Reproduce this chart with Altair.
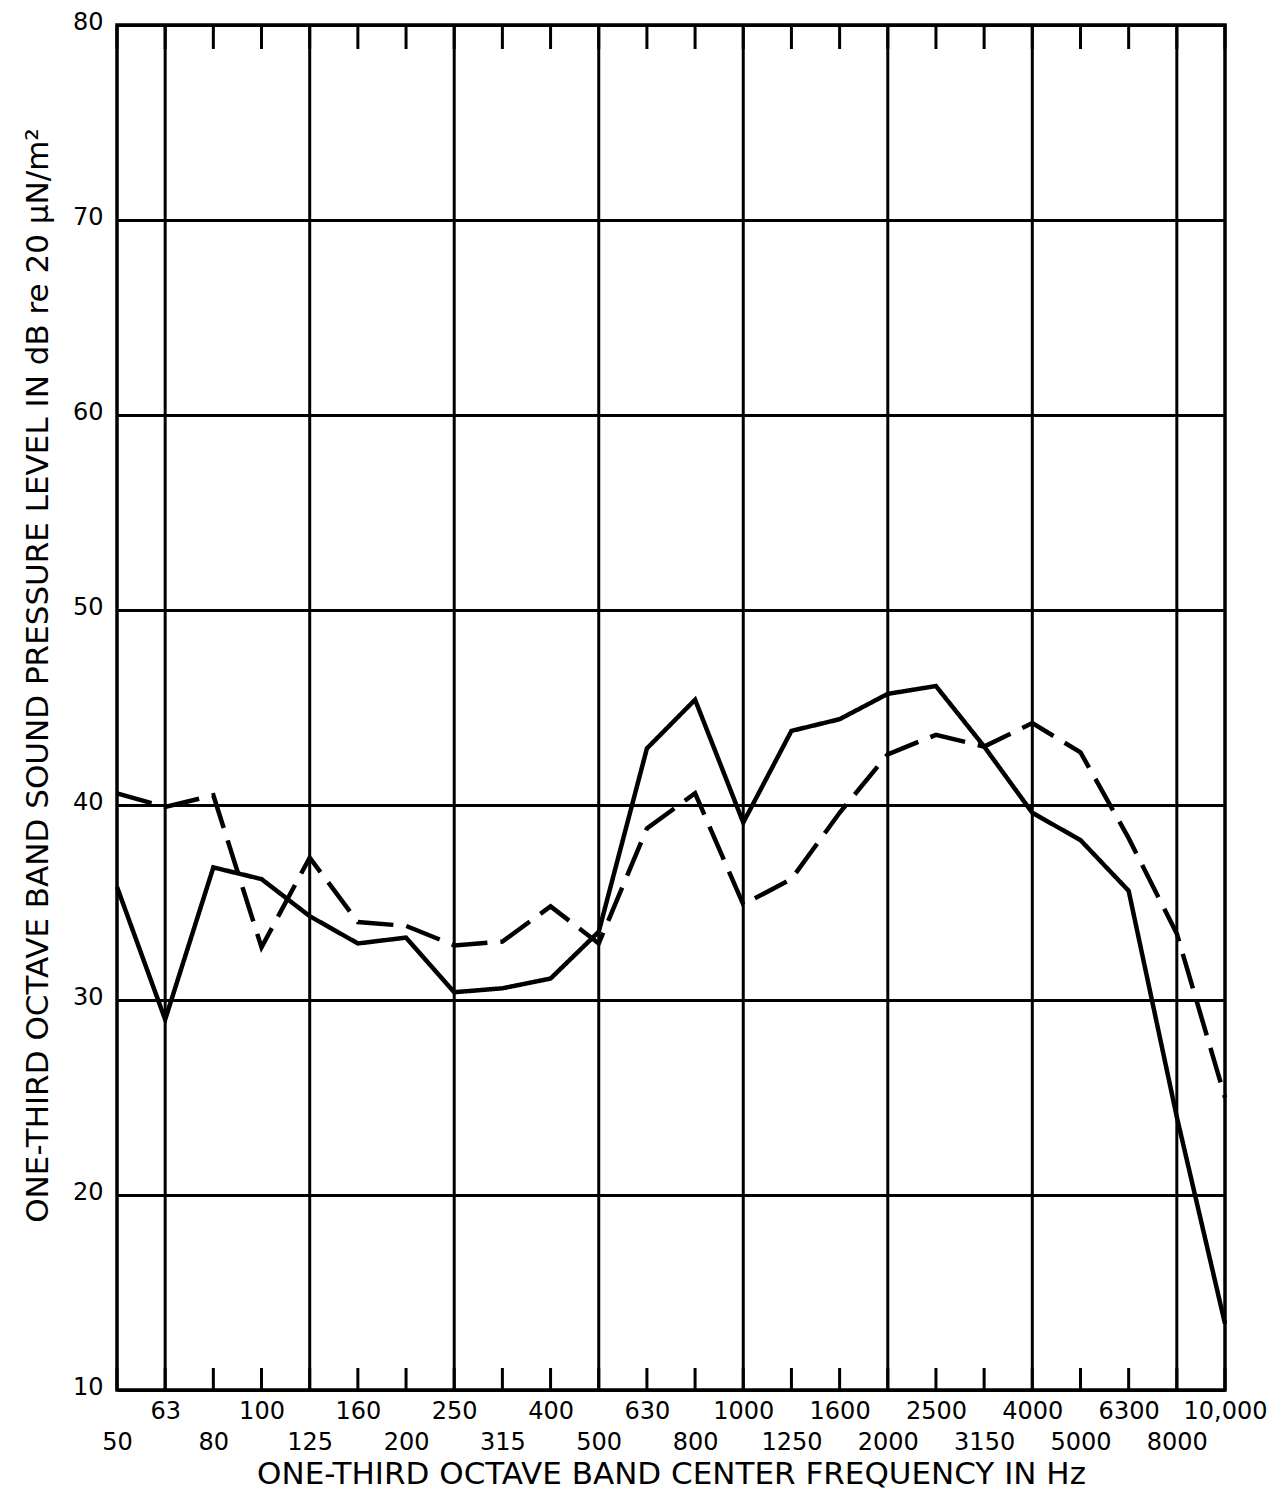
import json
import altair as alt
import pandas as pd

# One-third octave band centre frequencies (Hz) and their printed labels
bands = [50, 63, 80, 100, 125, 160, 200, 250, 315, 400, 500, 630, 800,
         1000, 1250, 1600, 2000, 2500, 3150, 4000, 5000, 6300, 8000, 10000]
band_labels = ["50", "63", "80", "100", "125", "160", "200", "250", "315", "400",
               "500", "630", "800", "1000", "1250", "1600", "2000", "2500", "3150",
               "4000", "5000", "6300", "8000", "10,000"]

# Sound pressure levels (dB re 20 uN/m^2)
solid_levels = [35.8, 29.0, 36.8, 36.2, 34.3, 32.9, 33.2, 30.4, 30.6, 31.1, 33.5, 42.9,
                45.4, 39.1, 43.8, 44.4, 45.7, 46.1, 43.0, 39.6, 38.2, 35.6, 24.0, 13.4]
dashed_levels = [40.6, 39.9, 40.5, 32.7, 37.3, 34.0, 33.8, 32.8, 33.0, 34.8, 32.9, 38.8,
                 40.6, 34.9, 36.2, 39.6, 42.6, 43.6, 43.0, 44.2, 42.7, 38.3, 33.4, 25.0]

# Heavy vertical grid lines fall on these bands
grid_bands = [63, 125, 250, 500, 1000, 2000, 4000, 8000]
y_ticks = [10, 20, 30, 40, 50, 60, 70, 80]

W, H = 1108, 1365
idx = list(range(len(bands)))
label_expr = json.dumps(band_labels) + "[datum.value]"

lines_df = pd.DataFrame({
    "i": idx * 2,
    "freq": bands * 2,
    "level": solid_levels + dashed_levels,
    "series": ["solid"] * len(bands) + ["dashed"] * len(bands),
})
ticks_df = pd.DataFrame({"i": idx, "freq": bands})
grid_df = pd.DataFrame({"i": [bands.index(f) for f in grid_bands], "freq": grid_bands})

xscale = alt.Scale(domain=[0, len(bands) - 1], nice=False, zero=False)

axis_row1 = alt.Axis(
    orient="bottom", values=idx[1::2], labelExpr=label_expr, ticks=False, domain=False,
    grid=False, labelPadding=9, labelFontSize=24, labelFont="DejaVu Sans",
    labelColor="black", labelFlush=False, labelOverlap=False, title=None,
)
axis_row2 = alt.Axis(
    orient="bottom", values=idx[0::2], labelExpr=label_expr, ticks=False, domain=False,
    grid=False, labelPadding=40, labelFontSize=24, labelFont="DejaVu Sans",
    labelColor="black", labelFlush=False, labelOverlap=False,
    title="ONE-THIRD OCTAVE BAND CENTER FREQUENCY IN Hz",
    titleFont="DejaVu Sans", titleFontSize=31, titleFontWeight="normal",
    titleColor="black", titleX=W / 2, titleY=93, titleBaseline="alphabetic",
    titleAlign="center",
)
yaxis = alt.Axis(
    values=y_ticks, grid=True, gridColor="black", gridWidth=3, ticks=False,
    domain=False, labelPadding=14, labelFontSize=24, labelFont="DejaVu Sans",
    labelColor="black", labelOffset=-3, labelFlush=False,
    title="ONE-THIRD OCTAVE BAND SOUND PRESSURE LEVEL IN dB re 20 \u03bcN/m\u00b2",
    titleFont="DejaVu Sans", titleFontSize=31, titleFontWeight="normal",
    titleColor="black", titleAngle=270, titleX=-70, titleY=650,
    titleBaseline="alphabetic", titleAlign="center",
)

vgrid = alt.Chart(grid_df).mark_rule(color="black", strokeWidth=3).encode(
    x=alt.X("i:Q", scale=xscale, axis=None)
)
top_ticks = alt.Chart(ticks_df).mark_rule(color="black", strokeWidth=3).encode(
    x=alt.X("i:Q", scale=xscale, axis=None),
    y=alt.value(0), y2=alt.value(24),
)
bottom_ticks = alt.Chart(ticks_df).mark_rule(color="black", strokeWidth=3).encode(
    x=alt.X("i:Q", scale=xscale, axis=axis_row2),
    y=alt.value(H - 22), y2=alt.value(H),
)
lines = alt.Chart(lines_df).mark_line(color="black", strokeWidth=4.5, strokeJoin="miter").encode(
    x=alt.X("i:Q", scale=xscale, axis=axis_row1),
    y=alt.Y("level:Q", scale=alt.Scale(domain=[10, 80], nice=False, zero=False), axis=yaxis),
    strokeDash=alt.StrokeDash(
        "series:N",
        scale=alt.Scale(domain=["solid", "dashed"], range=[[1, 0], [36, 13]]),
        legend=None,
    ),
    detail="series:N",
    order="i:Q",
)

chart = alt.layer(vgrid, top_ticks, bottom_ticks, lines).resolve_axis(
    x="independent"
).properties(
    width=W, height=H,
    padding={"left": 109, "top": 17, "right": 52, "bottom": 99},
    autosize=alt.AutoSizeParams(type="none"),
    background="white",
).configure_view(
    stroke="black", strokeWidth=3.5
)

chart.save("out.html", embed_options={"renderer": "svg", "actions": False})
